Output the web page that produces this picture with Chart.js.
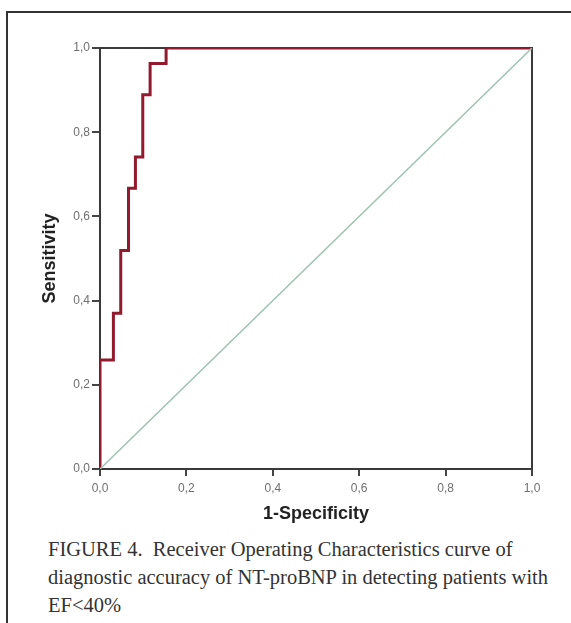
<!DOCTYPE html>
<html>
<head>
<meta charset="utf-8">
<script src="https://cdn.jsdelivr.net/npm/chart.js@4.4.1/dist/chart.umd.min.js"></script>
<style>
  html, body { margin: 0; padding: 0; background: #fff; }
  body { width: 571px; height: 623px; position: relative; overflow: hidden; }
  #frame { position: absolute; left: 6px; top: 11px; width: 600px; height: 640px;
           border-left: 2px solid #333; border-top: 2px solid #333; }
  #wrap { position: absolute; left: 0; top: 0; width: 571px; height: 535px; }
  #caption { position: absolute; left: 48px; top: 535px; width: 523px; white-space: nowrap;
             font-family: "Liberation Serif", "DejaVu Serif", serif; font-size: 20.5px;
             line-height: 28px; color: #333; }
</style>
</head>
<body>
<div id="frame"></div>
<div id="wrap"><canvas id="roc"></canvas></div>
<div id="caption">FIGURE 4.&nbsp; Receiver Operating Characteristics curve of<br>diagnostic accuracy of NT-proBNP in detecting patients with<br>EF&lt;40%</div>
<script>
// ROC operating points (1-specificity, sensitivity)
const fpr = [0, 0, 0.031, 0.048, 0.066, 0.082, 0.099, 0.116, 0.153, 1];
const tpr = [0, 0.259, 0.370, 0.519, 0.667, 0.741, 0.889, 0.963, 1, 1];
// reference line
const refX = [0, 1];
const refY = [0, 1];
const tickVals = [0, 0.2, 0.4, 0.6, 0.8, 1];

const fmt = v => v.toFixed(1).replace('.', ',');

// black box round the plot area
const boxPlugin = {
    id: 'box',
    beforeDatasetsDraw(chart) {
        const a = chart.chartArea, c = chart.ctx;
        c.save();
        c.strokeStyle = '#3a3a3a';
        c.lineWidth = 2;
        c.strokeRect(a.left, a.top, a.right - a.left, a.bottom - a.top);
        c.restore();
    }
};

const ctx = document.getElementById('roc').getContext('2d');
new Chart(ctx, {
    type: 'scatter',
    data: {
        datasets: [{
            label: 'Reference',
            data: refX.map((x, i) => ({ x: x, y: refY[i] })),
            showLine: true,
            borderColor: '#9cc4b0',
            borderWidth: 1.5,
            pointRadius: 0
        }, {
            label: 'NT-proBNP',
            data: fpr.map((x, i) => ({ x: x, y: tpr[i] })),
            showLine: true,
            stepped: 'before',
            borderColor: '#921a2e',
            borderWidth: 3,
            pointRadius: 0
        }]
    },
    options: {
        responsive: true,
        maintainAspectRatio: false,
        animation: false,
        layout: { padding: { left: 39, right: 39, top: 48, bottom: 4 } },
        plugins: { legend: { display: false }, tooltip: { enabled: false } },
        scales: {
            x: {
                type: 'linear', min: 0, max: 1,
                afterBuildTicks: s => { s.ticks = tickVals.map(v => ({ value: v })); },
                afterFit: s => { s.height = 62; },
                grid: { display: true, drawOnChartArea: false, drawTicks: true, tickLength: 7, color: '#444', lineWidth: 2 },
                border: { display: false },
                ticks: { color: '#6f6f6f', font: { family: 'Liberation Sans', size: 12 }, padding: 5, callback: fmt },
                title: { display: true, text: '1-Specificity', color: '#222',
                         font: { family: 'Liberation Sans', size: 18, weight: 'bold' }, padding: { top: 4, bottom: 6 } }
            },
            y: {
                type: 'linear', min: 0, max: 1,
                afterBuildTicks: s => { s.ticks = tickVals.map(v => ({ value: v })); },
                afterFit: s => { s.width = 61; },
                grid: { display: true, drawOnChartArea: false, drawTicks: true, tickLength: 8, color: '#444', lineWidth: 2 },
                border: { display: false },
                ticks: { color: '#6f6f6f', font: { family: 'Liberation Sans', size: 12 }, padding: 2, callback: fmt },
                title: { display: true, text: 'Sensitivity', color: '#222',
                         font: { family: 'Liberation Sans', size: 18, weight: 'bold' }, padding: { top: 0, bottom: 4 } }
            }
        }
    },
    plugins: [boxPlugin]
});
</script>
</body>
</html>
